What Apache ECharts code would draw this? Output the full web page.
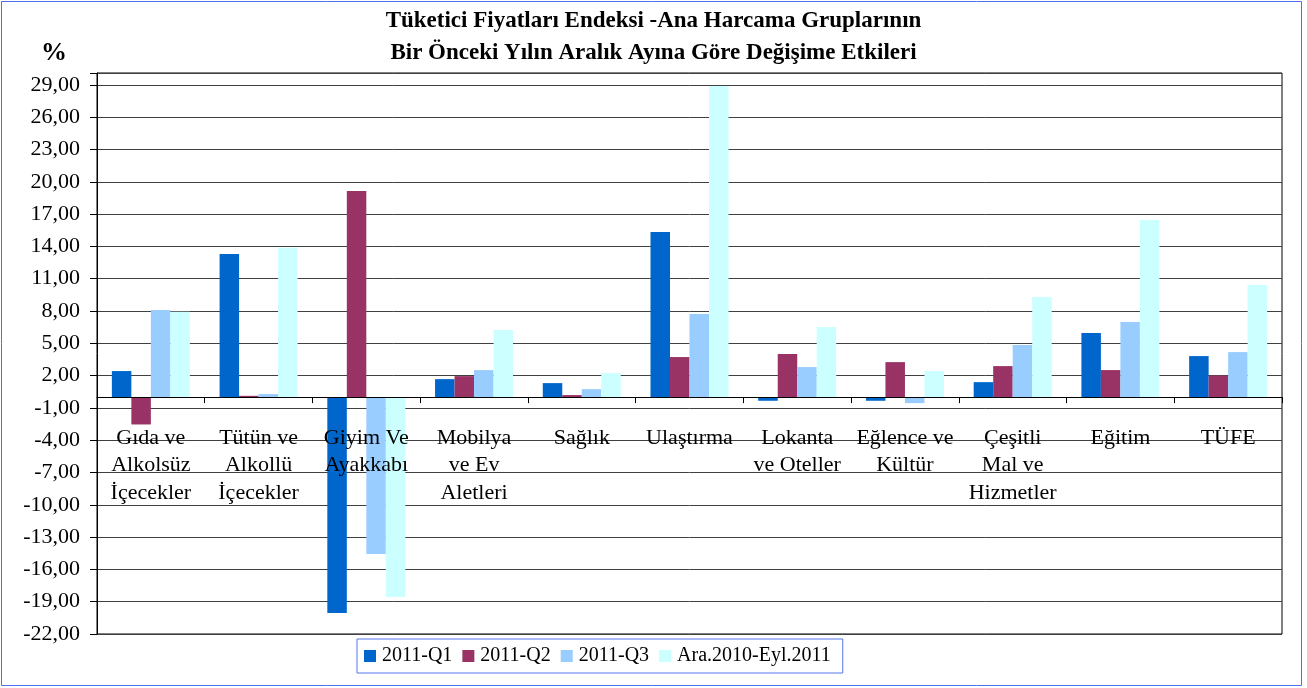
<!DOCTYPE html>
<html><head><meta charset="utf-8">
<script src="https://cdn.jsdelivr.net/npm/echarts@6/dist/echarts.min.js"></script>
<style>html,body{margin:0;padding:0;background:#fff}#c{width:1307px;height:688px}</style>
</head><body><div id="c"></div>
<script>
var categories = ["Gıda ve\nAlkolsüz\nİçecekler","Tütün ve\nAlkollü\nİçecekler","Giyim Ve\nAyakkabı","Mobilya\nve Ev\nAletleri","Sağlık","Ulaştırma","Lokanta\nve Oteller","Eğlence ve\nKültür","Çeşitli\nMal ve\nHizmetler","Eğitim","TÜFE"];
var seriesNames = ["2011-Q1","2011-Q2","2011-Q3","Ara.2010-Eyl.2011"];
var q1 = [2.42, 13.29, -20.05, 1.67, 1.30, 15.33, -0.34, -0.34, 1.39, 5.95, 3.81];
var q2 = [-2.54, 0.12, 19.14, 1.95, 0.19, 3.72, 4.00, 3.25, 2.88, 2.51, 2.01];
var q3 = [8.08, 0.28, -14.56, 2.51, 0.74, 7.71, 2.79, -0.56, 4.83, 6.97, 4.18];
var q4 = [7.93, 13.88, -18.56, 6.23, 2.23, 28.90, 6.50, 2.42, 9.29, 16.45, 10.41];
var colors = ["#0066CC","#993366","#99CCFF","#CCFFFF"];
var yMin = -22, yMax = 30.1, yStep = 3;

var font = "'Liberation Serif','Times New Roman',serif";
var W = 1307, H = 688;
var gTop = 73, gBottom = 54, gLeft = 97, gRight = 25;
var gH = H - gTop - gBottom;
var zeroOffset = -gH * (0 - yMin) / (yMax - yMin);

var chart = echarts.init(document.getElementById('c'), null, {renderer:'canvas'});
var all = [q1,q2,q3,q4];
var series = all.map(function(d,i){
  return {name: seriesNames[i], type:'bar', data:d, barWidth:19.5, barGap:'0%', itemStyle:{color:colors[i]}, silent:true, z:2};
});
chart.setOption({
  animation:false,
  backgroundColor:'#fff',
  title:[{text:"Tüketici Fiyatları Endeksi -Ana Harcama Gruplarının\nBir Önceki Yılın Aralık Ayına Göre Değişime Etkileri",
    left:'center', top:0, textStyle:{fontFamily:font, fontWeight:'bold', fontSize:23, lineHeight:32, color:'#000'}},
    {text:'%', left:36, top:35, textStyle:{fontFamily:font, fontWeight:'bold', fontSize:26, color:'#000'}}],
  legend:{left:357, top:639, itemWidth:12, itemHeight:12, itemGap:10, padding:[7,12,7,7],
    borderColor:'#5577ee', borderWidth:1, icon:'rect',
    textStyle:{fontFamily:font, fontSize:20, color:'#000', padding:[0,0,0,1]}, data:seriesNames},
  grid:{left:gLeft, right:gRight, top:gTop, bottom:gBottom, show:true, borderColor:'#000', borderWidth:1, containLabel:false, outerBoundsMode:'none'},
  xAxis:{type:'category', data:categories, offset: zeroOffset, z:10,
    axisLine:{onZero:false, lineStyle:{color:'#000', width:1}},
    axisTick:{show:true, length:6, lineStyle:{color:'#000'}},
    axisLabel:{interval:0, margin:27, fontFamily:font, fontSize:22, lineHeight:27.5, color:'#000', verticalAlign:'top'},
  },
  yAxis:{type:'value', min:yMin, max:yMax, interval:yStep,
    axisLine:{show:true, lineStyle:{color:'#000'}},
    axisTick:{show:true, length:7, inside:false, lineStyle:{color:'#000'}},
    splitLine:{show:true, lineStyle:{color:'#404040', width:1}},
    axisLabel:{fontFamily:font, fontSize:22, color:'#000', margin:17,
      formatter:function(v){var k=(v-yMin)/yStep; if(Math.abs(k-Math.round(k))>1e-6) return ''; return v.toFixed(2).replace('.',',');}}
  },
  graphic:[{type:'rect', shape:{x:1.5,y:1.5,width:1300,height:684}, style:{fill:null, stroke:'#4f6ff0', lineWidth:1}, silent:true}],
  series:series
});
</script></body></html>
